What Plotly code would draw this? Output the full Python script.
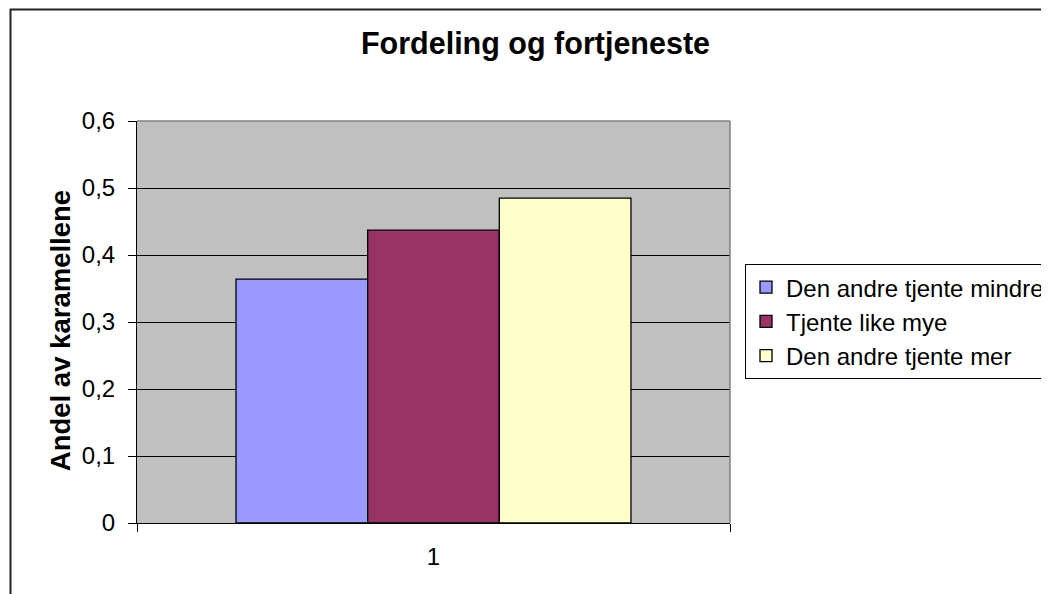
import plotly.graph_objects as go

categories = ["1"]
series_names = ["Den andre tjente mindre", "Tjente like mye", "Den andre tjente mer"]
series_values = [[0.364], [0.437], [0.485]]
series_colors = ["#9999FF", "#993366", "#FFFFCC"]
y_ticks = [0, 0.1, 0.2, 0.3, 0.4, 0.5, 0.6]

FONT = "Liberation Sans, Arial, sans-serif"

# page body has an 8px margin: figure is drawn from (8, 8)
OFF = 8
W, H = 1049 - OFF, 594 - OFF
L, T = 137 - OFF, 121 - OFF
PW, PH = 593, 401.7
R = W - L - PW
B = H - T - PH


def px(xpage):
    return (xpage - OFF - L) / PW


def py(ypage):
    return (T + PH - (ypage - OFF)) / PH


fig = go.Figure()
for name, vals, col in zip(series_names, series_values, series_colors):
    fig.add_trace(go.Bar(
        x=categories, y=vals, name=name,
        marker=dict(color=col, line=dict(color="black", width=1.3)),
    ))

fig.update_layout(
    width=W, height=H,
    margin=dict(l=L, r=R, t=T, b=B, autoexpand=False),
    paper_bgcolor="white", plot_bgcolor="#C0C0C0",
    separators=", ",
    font=dict(family=FONT, size=24, color="black"),
    barmode="group", bargap=0.334, bargroupgap=0,
    title=dict(text="<b>Fordeling og fortjeneste</b>", x=(535.5 - OFF) / W, xanchor="center",
               y=1 - (43 - OFF) / H, yanchor="middle",
               font=dict(family=FONT, size=30.5, color="black")),
    showlegend=True,
    legend=dict(x=px(745), xanchor="left", y=py(264), yanchor="top",
                bgcolor="white", bordercolor="black", borderwidth=1,
                font=dict(family=FONT, size=24, color="black"),
                traceorder="normal"),
    xaxis=dict(type="category", showline=True, linecolor="black", linewidth=1,
               ticks="outside", ticklen=8, tickcolor="black", tickson="boundaries",
               showgrid=False, tickfont=dict(size=24), ticklabelstandoff=12),
    yaxis=dict(range=[0, 0.6], tickvals=y_ticks, showline=True, linecolor="black",
               linewidth=1, ticks="outside", ticklen=8, tickcolor="black",
               showgrid=True, gridcolor="black", gridwidth=1, zeroline=False,
               tickfont=dict(size=24), ticklabelstandoff=8),
    annotations=[dict(text="<b>Andel av karamellene</b>", textangle=-90,
                      xref="paper", yref="paper", x=px(60), y=py(331),
                      xanchor="center", yanchor="middle", showarrow=False,
                      font=dict(family=FONT, size=27.5, color="black"))],
    shapes=[
        # gray plot-area border (top/right)
        dict(type="line", xref="paper", yref="paper", x0=0, x1=1, y0=1, y1=1,
             line=dict(color="#808080", width=1.5), layer="above"),
        dict(type="line", xref="paper", yref="paper", x0=1, x1=1, y0=0, y1=1,
             line=dict(color="#808080", width=1.5), layer="above"),
        # outer chart border
        dict(type="rect", xref="paper", yref="paper",
             x0=px(10.5), x1=1.7, y0=-0.3, y1=py(9.5),
             line=dict(color="#222222", width=2), layer="below"),
    ],
)

fig.write_html("out.html")
